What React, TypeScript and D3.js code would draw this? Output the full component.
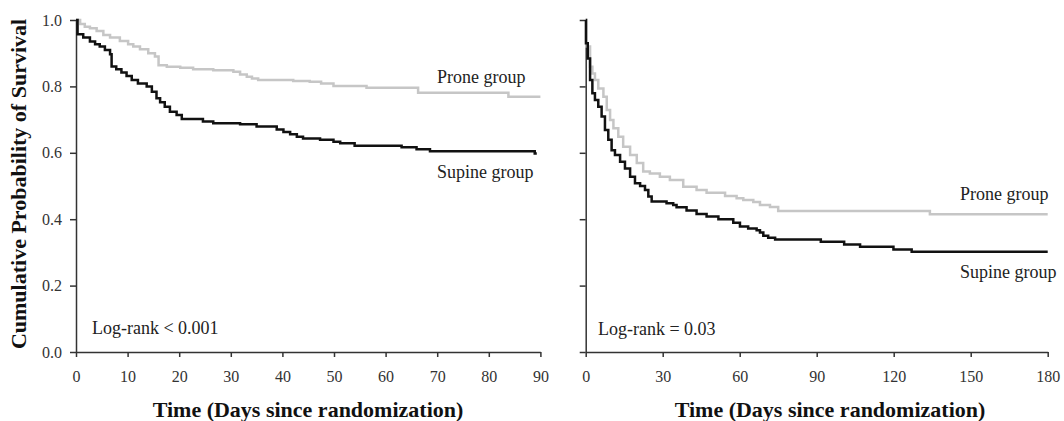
import React, { useRef, useEffect } from 'react';
import * as d3 from 'd3';

// Left panel (90 days) - Kaplan-Meier steps
const leftProneDays = [0, 0.8, 1.7, 2.7, 4, 5.3, 6.6, 8.5, 10.1, 11.1, 12.4, 14, 15.3, 16, 17.6, 20.2, 22.7, 26.6, 30.5, 31.8, 33.1, 34.1, 35.3, 42.1, 45.3, 47.5, 49.9, 56.3, 66.3, 83.8, 90];
const leftProneSurv = [1, 0.988, 0.98, 0.975, 0.967, 0.955, 0.947, 0.937, 0.927, 0.92, 0.912, 0.9, 0.89, 0.864, 0.859, 0.856, 0.852, 0.849, 0.844, 0.836, 0.829, 0.824, 0.819, 0.816, 0.814, 0.809, 0.801, 0.796, 0.781, 0.769, 0.769];

const leftSupineDays = [0, 0.3, 1.4, 2.7, 3.7, 4.6, 5.6, 6.6, 6.9, 7.8, 8.8, 9.8, 10.8, 12, 13.7, 14.7, 15.6, 16.3, 17.2, 18.2, 19.5, 20.5, 24.6, 26.6, 31.8, 35, 38.9, 40.2, 41.5, 42.8, 44, 47.3, 49.9, 51.2, 54, 63.1, 66, 68.6, 88.9, 89.3];
const leftSupineSurv = [1, 0.957, 0.947, 0.935, 0.927, 0.92, 0.91, 0.897, 0.86, 0.852, 0.842, 0.831, 0.819, 0.809, 0.8, 0.784, 0.764, 0.752, 0.739, 0.724, 0.714, 0.702, 0.694, 0.689, 0.686, 0.679, 0.67, 0.663, 0.656, 0.648, 0.643, 0.639, 0.633, 0.629, 0.621, 0.617, 0.611, 0.605, 0.598, 0.598];

// Right panel (180 days)
const rightProneDays = [0, 0.3, 1.7, 2.6, 3.6, 4.9, 6.9, 8.2, 9.5, 10.8, 12.7, 14.6, 17.3, 19.9, 22.4, 25, 28.9, 32.8, 38, 43.2, 47.1, 54.3, 58.8, 61.4, 65.3, 67.9, 71.8, 75, 134.1, 180];
const rightProneSurv = [1, 0.92, 0.859, 0.839, 0.819, 0.794, 0.769, 0.729, 0.699, 0.674, 0.648, 0.618, 0.593, 0.569, 0.544, 0.538, 0.528, 0.518, 0.498, 0.488, 0.48, 0.47, 0.463, 0.458, 0.452, 0.443, 0.437, 0.425, 0.415, 0.415];

const rightSupineDays = [0, 0.1, 0.8, 1.7, 2.6, 3.6, 4.9, 6.2, 7.5, 8.8, 10.1, 11.4, 13.4, 15.3, 17.3, 19.2, 21.2, 23.1, 24.4, 25.7, 31.5, 34.1, 35.4, 39.3, 43.2, 47.1, 51.7, 57.5, 60.1, 63.3, 66.6, 67.9, 69.2, 71.1, 73.8, 91.6, 100.7, 106.9, 119.9, 127, 180];
const rightSupineSurv = [1, 0.93, 0.884, 0.819, 0.779, 0.759, 0.739, 0.709, 0.669, 0.639, 0.608, 0.593, 0.573, 0.553, 0.528, 0.508, 0.5, 0.488, 0.468, 0.453, 0.448, 0.443, 0.436, 0.426, 0.416, 0.408, 0.4, 0.389, 0.378, 0.372, 0.367, 0.36, 0.35, 0.344, 0.339, 0.332, 0.324, 0.317, 0.309, 0.302, 0.302];

const yTicks = [0, 0.2, 0.4, 0.6, 0.8, 1.0];
const leftXTicks = [0, 10, 20, 30, 40, 50, 60, 70, 80, 90];
const rightXTicks = [0, 30, 60, 90, 120, 150, 180];

const FONT = "'Liberation Serif', 'Times New Roman', serif";
const PRONE_COLOR = '#c6c6c6';
const SUPINE_COLOR = '#111';

const App = () => {
  const chartRef = useRef<SVGSVGElement>(null);

  useEffect(() => {
    const svg = d3.select(chartRef.current);
    svg.selectAll('*').remove();

    const top = 20;
    const bottom = 352;
    const y = d3.scaleLinear().domain([0, 1]).range([bottom, top]);

    const panels = [
      {
        x: d3.scaleLinear().domain([0, 90]).range([76, 540.4]),
        ticks: leftXTicks,
        yLabels: true,
        prone: d3.zip(leftProneDays, leftProneSurv),
        supine: d3.zip(leftSupineDays, leftSupineSurv),
        proneLabel: [437, 83],
        supineLabel: [437, 178],
        logRank: 'Log-rank < 0.001',
        logRankPos: [92, 334],
        titleX: 308,
      },
      {
        x: d3.scaleLinear().domain([0, 180]).range([585.7, 1047.7]),
        ticks: rightXTicks,
        yLabels: false,
        prone: d3.zip(rightProneDays, rightProneSurv),
        supine: d3.zip(rightSupineDays, rightSupineSurv),
        proneLabel: [960, 200],
        supineLabel: [960, 278],
        logRank: 'Log-rank = 0.03',
        logRankPos: [598, 335],
        titleX: 830,
      },
    ];

    panels.forEach((p) => {
      const g = svg.append('g');
      const x0 = p.x.range()[0];

      // y axis
      const yAxis = d3
        .axisLeft(y)
        .tickValues(yTicks)
        .tickSize(6)
        .tickSizeOuter(0)
        .tickPadding(8)
        .tickFormat(p.yLabels ? d3.format('.1f') : () => '');
      const ya = g.append('g').attr('transform', `translate(${x0},0)`).call(yAxis);

      // x axis
      const xAxis = d3
        .axisBottom(p.x)
        .tickValues(p.ticks)
        .tickSize(5)
        .tickSizeOuter(0)
        .tickPadding(13.6)
        .tickFormat(d3.format('d'));
      const xa = g.append('g').attr('transform', `translate(0,${bottom})`).call(xAxis);

      [ya, xa].forEach((a) => {
        a.attr('font-family', FONT).attr('font-size', 16);
        a.selectAll('path, line').attr('stroke', '#333').attr('stroke-width', 1.5);
        a.selectAll('text').attr('fill', '#333');
      });

      const line = d3
        .line<[number, number]>()
        .x((d) => p.x(d[0]))
        .y((d) => y(d[1]))
        .curve(d3.curveStepAfter);

      g.append('path')
        .datum(p.prone as [number, number][])
        .attr('fill', 'none')
        .attr('stroke', PRONE_COLOR)
        .attr('stroke-width', 2.5)
        .attr('d', line);

      g.append('path')
        .datum(p.supine as [number, number][])
        .attr('fill', 'none')
        .attr('stroke', SUPINE_COLOR)
        .attr('stroke-width', 2.5)
        .attr('d', line);

      const label = (txt: string, pos: number[]) =>
        g.append('text')
          .attr('x', pos[0])
          .attr('y', pos[1])
          .attr('font-family', FONT)
          .attr('font-size', 18)
          .attr('fill', '#222')
          .text(txt);

      label('Prone group', p.proneLabel);
      label('Supine group', p.supineLabel);
      label(p.logRank, p.logRankPos);

      g.append('text')
        .attr('x', p.titleX)
        .attr('y', 417)
        .attr('text-anchor', 'middle')
        .attr('font-family', FONT)
        .attr('font-size', 22)
        .attr('font-weight', 'bold')
        .attr('fill', '#111')
        .text('Time (Days since randomization)');
    });

    // y axis title
    svg.append('text')
      .attr('transform', 'translate(26,184) rotate(-90)')
      .attr('text-anchor', 'middle')
      .attr('font-family', FONT)
      .attr('font-size', 22)
      .attr('font-weight', 'bold')
      .attr('fill', '#111')
      .text('Cumulative Probability of Survival');
  }, []);

  return (
    <svg
      ref={chartRef}
      width={1064}
      height={421}
      style={{ position: 'absolute', left: 0, top: 0, background: '#fff' }}
    />
  );
};

export default App;
